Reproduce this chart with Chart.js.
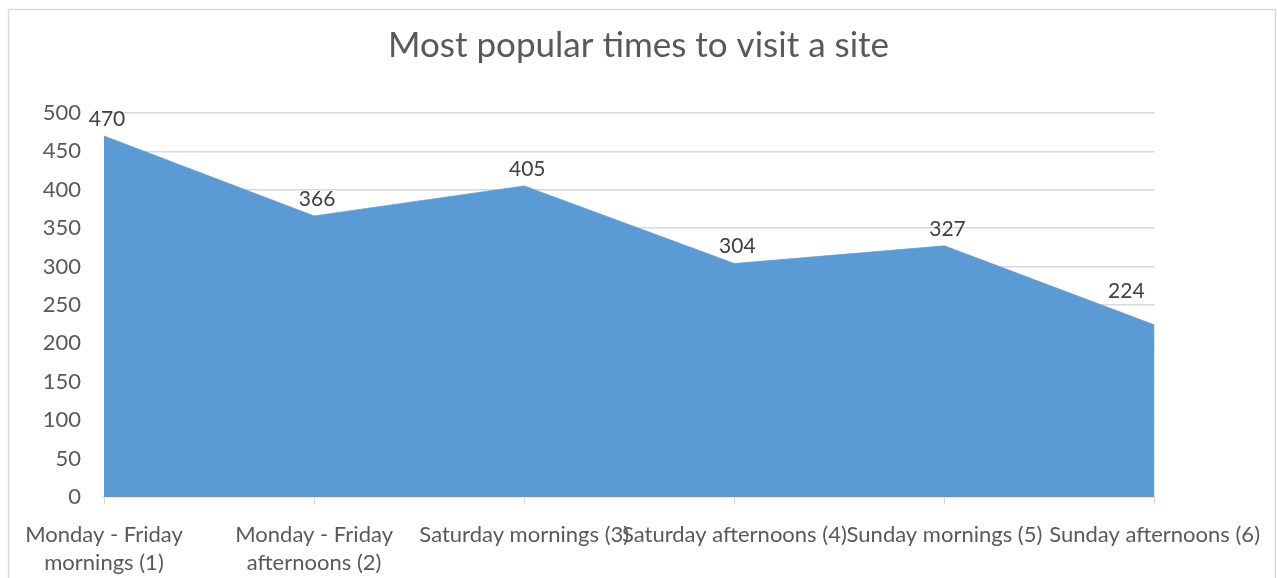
<!DOCTYPE html>
<html lang="en">
<head>
    <meta charset="UTF-8">
    <title>Most popular times to visit a site</title>
    <script src="https://cdn.jsdelivr.net/npm/chart.js"></script>
    <style>
        body {
            margin: 0;
            background: #ffffff;
        }

        canvas {
            display: block;
        }
    </style>
</head>
<body>
    <canvas id="visitChart" width="1277" height="578"></canvas>

    <script>
        // chart data
        const chartTitle = "Most popular times to visit a site";
        const categories = [
            ["Monday - Friday", "mornings (1)"],
            ["Monday - Friday", "afternoons (2)"],
            "Saturday mornings (3)",
            "Saturday afternoons (4)",
            "Sunday mornings (5)",
            "Sunday afternoons (6)"
        ];
        const visits = [470, 366, 405, 304, 327, 224];
        const yTicks = [0, 50, 100, 150, 200, 250, 300, 350, 400, 450, 500];

        const fontFamily = "Lato, 'Open Sans', sans-serif";

        // white background, light frame and the title (centred on the whole canvas)
        const framePlugin = {
            id: "frame",
            beforeDraw(chart) {
                const c = chart.ctx;
                c.save();
                c.fillStyle = "#ffffff";
                c.fillRect(0, 0, chart.width, chart.height);
                c.strokeStyle = "#D9D9D9";
                c.lineWidth = 1.5;
                c.strokeRect(8.5, 9.5, chart.width - 10, chart.height + 20);
                c.font = "35px " + fontFamily;
                c.fillStyle = "#595959";
                c.textAlign = "center";
                c.textBaseline = "middle";
                c.fillText(chartTitle, chart.width / 2, 46);
                c.restore();
            }
        };

        // value labels above each point
        const valueLabels = {
            id: "valueLabels",
            afterDatasetsDraw(chart) {
                const c = chart.ctx;
                const meta = chart.getDatasetMeta(0);
                const area = chart.chartArea;
                c.save();
                c.font = "21px " + fontFamily;
                c.fillStyle = "#404040";
                c.textAlign = "center";
                c.textBaseline = "middle";
                meta.data.forEach((pt, i) => {
                    const txt = String(visits[i]);
                    const w = c.measureText(txt).width;
                    const x = Math.min(pt.x + 3, area.right - w / 2 - 10);
                    // pushed in from the edge -> lift it clear of the line
                    const lift = 17 + Math.max(0, pt.x - x) * 0.6;
                    c.fillText(txt, x, pt.y - lift);
                });
                c.restore();
            }
        };

        const ctx = document.getElementById("visitChart").getContext("2d");

        new Chart(ctx, {
            type: "line",
            data: {
                labels: categories,
                datasets: [{
                    label: "Visits",
                    data: visits,
                    fill: "origin",
                    backgroundColor: "#5B9BD5",
                    borderColor: "#8497b0",
                    borderWidth: 0.8,
                    pointRadius: 0,
                    tension: 0
                }]
            },
            options: {
                responsive: false,
                animation: false,
                layout: {
                    padding: { left: 0, right: 121, top: 113, bottom: 0 }
                },
                plugins: {
                    legend: { display: false },
                    tooltip: { enabled: false },
                    title: { display: false }
                },
                scales: {
                    x: {
                        offset: false,
                        grid: {
                            drawOnChartArea: false,
                            drawTicks: true,
                            tickLength: 7,
                            color: "#D9D9D9"
                        },
                        border: { display: true, color: "#D9D9D9", width: 1.5 },
                        ticks: {
                            color: "#595959",
                            font: { family: fontFamily, size: 22, lineHeight: 1.27 },
                            padding: 17,
                            autoSkip: false,
                            maxRotation: 0,
                            minRotation: 0
                        },
                        afterFit(scale) {
                            scale.height = 81;
                        }
                    },
                    y: {
                        min: 0,
                        max: 500,
                        afterBuildTicks(scale) {
                            scale.ticks = yTicks.map(v => ({ value: v }));
                        },
                        grid: {
                            color: "#D9D9D9",
                            lineWidth: 1.5,
                            drawTicks: false
                        },
                        border: { display: false },
                        ticks: {
                            color: "#595959",
                            font: { family: fontFamily, size: 22 },
                            padding: 23
                        },
                        afterFit(scale) {
                            scale.width = 104;
                        }
                    }
                }
            },
            plugins: [framePlugin, valueLabels]
        });
    </script>
</body>
</html>
